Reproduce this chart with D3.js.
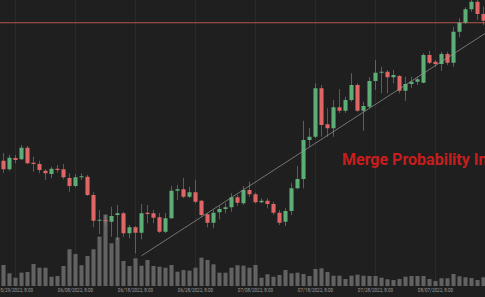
<!DOCTYPE html>
<html>
<head>
<meta charset="utf-8">
<script src="https://cdn.jsdelivr.net/npm/d3@7"></script>
<style>
html, body { margin: 0; padding: 0; background: #1f1f1f; overflow: hidden; }
svg { display: block; }
</style>
</head>
<body>
<script>
var WIDTH = 485;
var HEIGHT = 297;
var VOLUME_BOTTOM = 286;

// daily candles, first one is 05/27/2022
var firstDay = new Date(2022, 4, 27);
var days = d3.timeDay.range(firstDay, d3.timeDay.offset(firstDay, 81));

var opens = [1357, 1323, 1368, 1363, 1409, 1349, 1344, 1317, 1304, 1325,
    1323, 1288, 1256, 1291, 1293, 1220, 1117, 1120, 1113, 1140,
    1147, 1067, 1091, 1069, 1149, 1147, 1131, 1073, 1127, 1237,
    1243, 1213, 1231, 1197, 1143, 1109, 1151, 1164, 1171, 1211,
    1187, 1240, 1223, 1191, 1197, 1184, 1149, 1113, 1156, 1247,
    1284, 1440, 1453, 1647, 1503, 1487, 1571, 1557, 1600, 1660,
    1557, 1573, 1676, 1709, 1713, 1691, 1696, 1637, 1664, 1673,
    1669, 1780, 1753, 1744, 1784, 1749, 1873, 1909, 1963, 1993, 1944];
var highs = [1388, 1380, 1380, 1420, 1416, 1373, 1357, 1323, 1333, 1340,
    1344, 1307, 1304, 1307, 1300, 1231, 1160, 1140, 1173, 1180,
    1153, 1100, 1096, 1184, 1180, 1160, 1148, 1148, 1256, 1260,
    1288, 1253, 1280, 1200, 1147, 1160, 1176, 1187, 1227, 1220,
    1256, 1273, 1229, 1207, 1207, 1193, 1160, 1167, 1267, 1336,
    1517, 1488, 1667, 1660, 1567, 1600, 1644, 1613, 1707, 1667,
    1593, 1691, 1760, 1733, 1720, 1720, 1700, 1693, 1693, 1693,
    1787, 1797, 1760, 1793, 1793, 1893, 1927, 1971, 2004, 2008, 1973];
var lows = [1308, 1317, 1347, 1360, 1344, 1313, 1307, 1280, 1287, 1309,
    1283, 1233, 1251, 1280, 1216, 1091, 1064, 1100, 1053, 1040,
    1053, 1047, 987, 1043, 1107, 1107, 1068, 1067, 1124, 1200,
    1207, 1208, 1187, 1133, 1091, 1087, 1123, 1147, 1153, 1176,
    1180, 1213, 1187, 1187, 1167, 1140, 1100, 1096, 1140, 1243,
    1247, 1413, 1448, 1453, 1453, 1453, 1548, 1549, 1593, 1553,
    1477, 1567, 1640, 1627, 1627, 1667, 1627, 1597, 1647, 1660,
    1667, 1744, 1733, 1717, 1740, 1733, 1851, 1904, 1953, 1920, 1900];
var closes = [1323, 1369, 1360, 1409, 1347, 1344, 1320, 1307, 1325, 1320,
    1291, 1256, 1291, 1295, 1220, 1117, 1121, 1115, 1136, 1147,
    1067, 1091, 1069, 1147, 1144, 1129, 1073, 1127, 1237, 1243,
    1213, 1231, 1193, 1140, 1109, 1149, 1164, 1171, 1211, 1189,
    1240, 1223, 1191, 1197, 1184, 1149, 1109, 1156, 1247, 1284,
    1440, 1453, 1647, 1500, 1487, 1571, 1557, 1600, 1660, 1557,
    1576, 1676, 1709, 1713, 1691, 1700, 1637, 1664, 1673, 1683,
    1780, 1749, 1744, 1784, 1749, 1873, 1909, 1963, 1993, 1944, 1917];
var volumes = [29.2, 17.6, 11.5, 18.5, 19.4, 30.6, 25.4, 25.4, 12.9, 13.9,
    27.8, 51, 44.4, 28.8, 41.7, 51, 68.5, 99.3, 59.3, 67.4,
    34.7, 27.8, 38.5, 28.2, 36.1, 27.8, 26.8, 25.4, 29.2, 19.9,
    22.2, 21.3, 25.4, 39.3, 36.1, 30.1, 18.5, 18.5, 25.4, 28.8,
    28.2, 25.4, 29.2, 11.5, 16.3, 12.9, 15.3, 22.2, 17.6, 18.5,
    16.7, 13.9, 23.6, 24.6, 19.4, 14.3, 14.3, 9.7, 14.3, 15.7,
    14.3, 13.9, 13.9, 11.5, 9.3, 8.3, 9.7, 12.9, 13.9, 13.9,
    13.9, 9.7, 6.9, 10.7, 10.7, 16.7, 13.5, 12.1, 11.1, 8.3, 12.1];

var tickDates = [new Date(2022, 4, 29), new Date(2022, 5, 8), new Date(2022, 5, 18), new Date(2022, 5, 28),
    new Date(2022, 6, 8), new Date(2022, 6, 18), new Date(2022, 6, 28), new Date(2022, 7, 7)];
var tickLabels = ['05/29/2022, 8:00', '06/08/2022, 8:00', '06/18/2022, 8:00', '06/28/2022, 8:00',
    '07/08/2022, 8:00', '07/18/2022, 8:00', '07/28/2022, 8:00', '08/07/2022, 8:00'];

var levelPrice = 1909; // horizontal price line
var trendDates = [new Date(2022, 5, 19), new Date(2022, 7, 16)];
var trendPrices = [977, 1879];
var noteText = 'Merge Probability Index';

var candles = days.map(function (d, i) {
    return { date: d, open: opens[i], high: highs[i], low: lows[i], close: closes[i], volume: volumes[i] };
});

var x = d3.scaleBand()
    .domain(days.map(function (d) { return +d; }))
    .range([0.5, WIDTH + 1.5])
    .paddingInner(0.32)
    .paddingOuter(0.16);

var xCenter = function (d) { return x(+d) + x.bandwidth() / 2; };

var y = d3.scaleLinear()
    .domain([812, 2000])
    .range([HEIGHT, 0]);

var volumeY = d3.scaleLinear()
    .domain([0, 100])
    .range([VOLUME_BOTTOM, 214]);

var isUp = function (d) { return d.close >= d.open; };
var GREEN = '#5dae76';
var RED = '#e06666';

var svg = d3.select('body').append('svg')
    .attr('width', WIDTH)
    .attr('height', HEIGHT);

svg.append('rect')
    .attr('width', WIDTH)
    .attr('height', HEIGHT)
    .attr('fill', '#1f1f1f');

// faint vertical grid at the date ticks
svg.selectAll('.grid')
    .data(tickDates)
    .enter()
    .append('line')
    .attr('class', 'grid')
    .attr('x1', xCenter)
    .attr('x2', xCenter)
    .attr('y1', 0)
    .attr('y2', VOLUME_BOTTOM)
    .attr('stroke', '#2a2a2a')
    .attr('stroke-width', 1);

svg.append('line')
    .attr('x1', 0)
    .attr('x2', WIDTH)
    .attr('y1', y(levelPrice))
    .attr('y2', y(levelPrice))
    .attr('stroke', '#b4564e')
    .attr('stroke-width', 1);

svg.selectAll('.volume')
    .data(candles)
    .enter()
    .append('rect')
    .attr('class', 'volume')
    .attr('x', function (d) { return x(+d.date); })
    .attr('width', x.bandwidth())
    .attr('y', function (d) { return volumeY(d.volume); })
    .attr('height', function (d) { return VOLUME_BOTTOM - volumeY(d.volume); })
    .attr('fill', '#626262');

var candle = svg.selectAll('.candle')
    .data(candles)
    .enter()
    .append('g')
    .attr('class', 'candle');

candle.append('line')
    .attr('x1', function (d) { return xCenter(d.date); })
    .attr('x2', function (d) { return xCenter(d.date); })
    .attr('y1', function (d) { return y(d.high); })
    .attr('y2', function (d) { return y(d.low); })
    .attr('stroke', function (d) { return isUp(d) ? GREEN : RED; })
    .attr('stroke-opacity', 0.7)
    .attr('stroke-width', 0.8);

candle.append('rect')
    .attr('x', function (d) { return x(+d.date); })
    .attr('width', x.bandwidth())
    .attr('y', function (d) { return y(Math.max(d.open, d.close)); })
    .attr('height', function (d) { return Math.max(1, Math.abs(y(d.open) - y(d.close))); })
    .attr('fill', function (d) { return isUp(d) ? GREEN : RED; });

svg.append('line')
    .attr('x1', xCenter(trendDates[0]) || 0)
    .attr('x2', WIDTH + 5)
    .attr('y1', y(trendPrices[0]))
    .attr('y2', y(trendPrices[1]))
    .attr('stroke', '#9a9a9a')
    .attr('stroke-width', 0.7);

var xAxis = d3.axisBottom(x)
    .tickValues(tickDates.map(function (d) { return +d; }))
    .tickFormat(function (d, i) { return tickLabels[i]; })
    .tickSize(0)
    .tickPadding(2.5);

var axis = svg.append('g')
    .attr('transform', 'translate(0,' + VOLUME_BOTTOM + ')')
    .call(xAxis);

axis.select('.domain').remove();
axis.selectAll('text')
    .attr('fill', '#9c9c9c')
    .style('font-family', 'Roboto, sans-serif')
    .style('font-size', '4.6px');

svg.append('text')
    .attr('x', 342)
    .attr('y', 165)
    .attr('fill', '#c81d1d')
    .style('font-family', 'Roboto, sans-serif')
    .style('font-weight', 700)
    .style('font-size', '16px')
    .text(noteText);
</script>
</body>
</html>
